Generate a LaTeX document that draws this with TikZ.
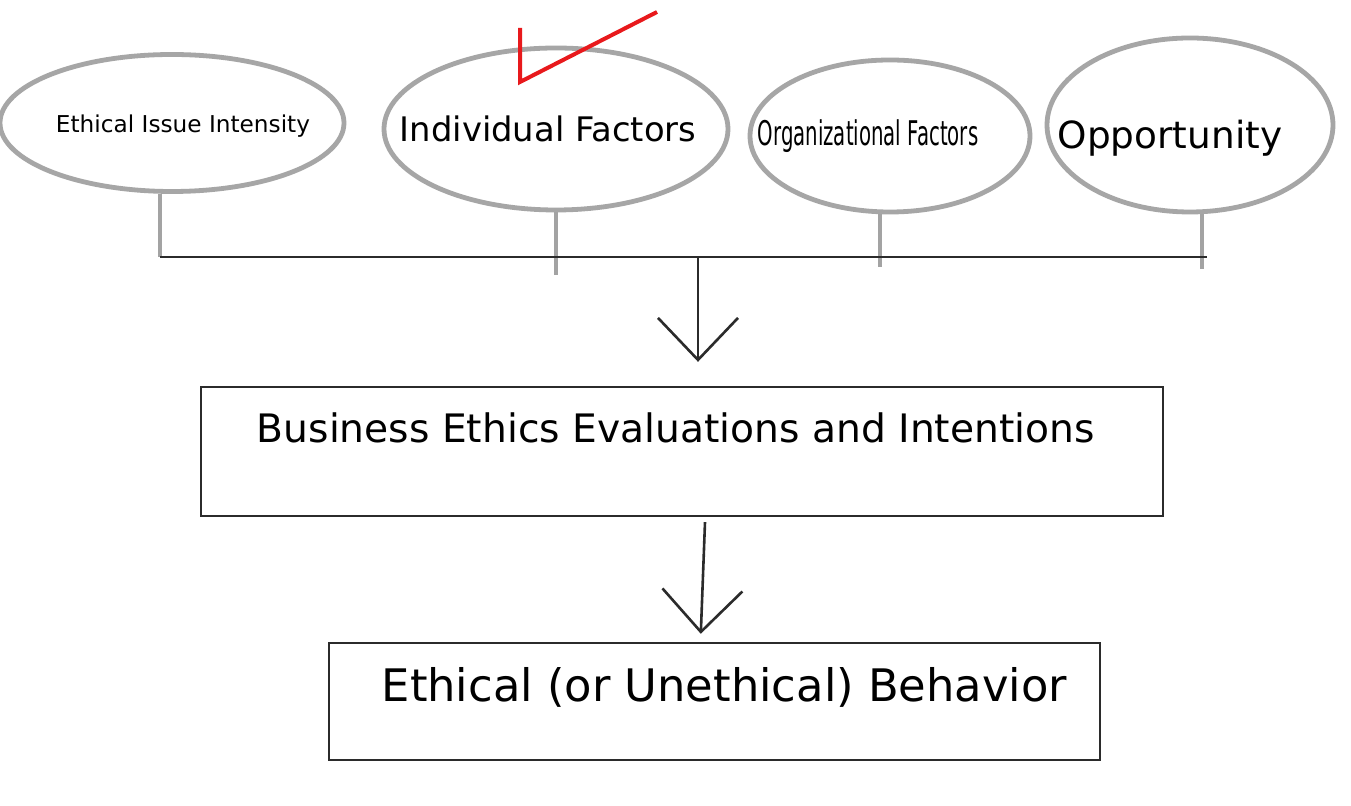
\documentclass[tikz,border=0pt]{standalone}
\usepackage{fontspec}
\setmainfont{DejaVu Sans}
\newfontfamily\narrowfont[FakeStretch=0.58]{DejaVu Sans}
\usepackage{xcolor}
\usepackage{tikz}
\usetikzlibrary{shapes.geometric, arrows.meta, positioning, calc}
\definecolor{ovalgray}{HTML}{A6A6A6}
\definecolor{stemgray}{HTML}{A3A3A3}
\definecolor{linedark}{HTML}{2B2B2B}
\definecolor{checkred}{HTML}{E8191C}

\begin{document}
\begin{tikzpicture}[
    x=0.5pt, y=-0.5pt,
    factor/.style={
        ellipse, draw=ovalgray, line width=2.4pt,
        inner sep=0pt, fill=white
    },
    stepbox/.style={
        rectangle, draw=linedark, line width=1.2pt,
        align=center, fill=white
    },
    stem/.style={draw=stemgray, line width=2pt},
    bar/.style={draw=linedark, line width=1.4pt},
    arrow/.style={-{Straight Barb[length=21pt, width=40pt, line width=1.3pt]}, line width=1.3pt, color=linedark}
]

\useasboundingbox[fill=white] (0,0) rectangle (1351,806);

\coordinate (barL) at (160,257);
\coordinate (barR) at (1207,257);
\coordinate (join) at (698,257);

\node[factor, minimum width=172pt, minimum height=68.5pt] (issue) at (172,123) {
    \makebox[0pt]{\hspace*{11pt}\raisebox{-4.7pt}[0pt][0pt]{\fontsize{11.6}{14}\selectfont Ethical Issue Intensity}}
};

\node[factor, minimum width=172pt, minimum height=81pt] (indiv) at (556,129) {
    \makebox[0pt]{\fontsize{16.9}{20}\selectfont Individual Factors\hspace*{8pt}}
};

\node[factor, minimum width=140pt, minimum height=76pt] (org) at (890,136) {
    \makebox[0pt]{\narrowfont\fontsize{17}{20}\selectfont Organizational Factors\hspace*{22pt}}
};

\node[factor, minimum width=143pt, minimum height=87pt] (opp) at (1190,125) {
    \makebox[0pt]{\raisebox{-11.8pt}[0pt][0pt]{\fontsize{18.7}{22}\selectfont Opportunity}\hspace*{20pt}}
};

\node[stepbox, minimum width=481pt, minimum height=64.5pt,
      text height=15pt, text depth=23.6pt] (eval) at (682,451.5) {
    \fontsize{19.6}{23}\selectfont Business Ethics Evaluations and Intentions
};

\node[stepbox, minimum width=385.5pt, minimum height=58.5pt,
      text height=16pt, text depth=16pt] (behav) at (714.5,701.5) {
    \hspace*{17pt}\fontsize{22.4}{26}\selectfont Ethical (or Unethical) Behavior
};

\draw[checkred, line width=2pt] (520,28) -- (520,82) -- (657,12);

\draw[stem] (issue.south -| barL) -- (barL);
\draw[stem] (indiv.south) -- ++(0,63);
\draw[stem] ([xshift=-5pt]org.south) -- ++(0,53);
\draw[stem] ([xshift=6pt]opp.south) -- ++(0,55);
\draw[bar] (barL) -- (barR);

\draw[arrow, shorten >=12pt] (join) -- (join |- eval.north);
\draw[arrow, shorten >=4pt] ($(eval.south)+(23,5)$) -- ($(behav.north)+(-14,0)$);

\end{tikzpicture}
\end{document}
